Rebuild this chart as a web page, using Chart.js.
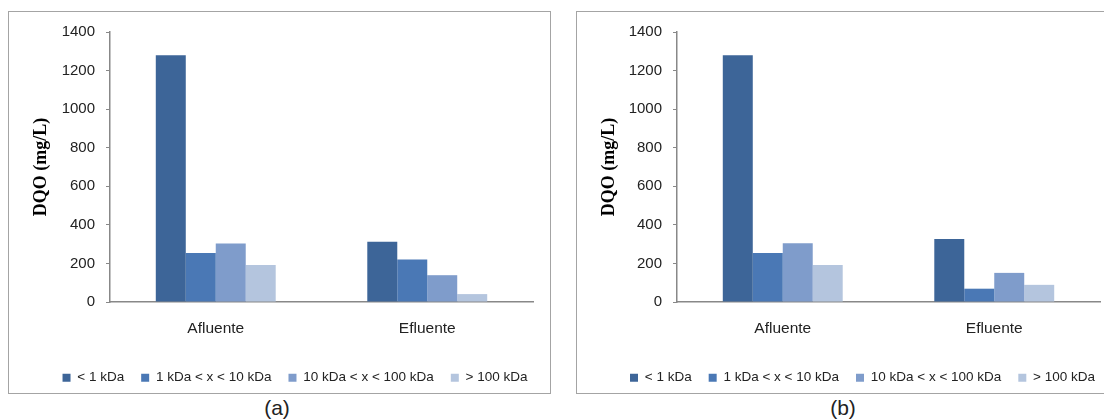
<!DOCTYPE html>
<html>
<head>
<meta charset="utf-8">
<script src="https://cdn.jsdelivr.net/npm/chart.js@4"></script>
<style>
  body { margin: 0; background: #fff; width: 1104px; height: 420px; overflow: hidden; position: relative; }
  .panel { position: absolute; top: 11px; width: 541px; height: 381px; border: 1px solid #a4a4a4; background: #fff; }
  .cap { position: absolute; top: 396px; font: 21px "Liberation Sans", Arial, sans-serif; color: #222; width: 60px; text-align: center; }
</style>
</head>
<body>
<div class="panel" style="left:8px"><canvas id="chartA" width="541" height="381"></canvas></div>
<div class="panel" style="left:576px"><canvas id="chartB" width="541" height="381"></canvas></div>
<div class="cap" style="left:247px">(a)</div>
<div class="cap" style="left:813px">(b)</div>
<script>
const categories = ['Afluente', 'Efluente']
const seriesLabels = ['< 1 kDa', '1 kDa < x < 10 kDa', '10 kDa < x < 100 kDa', '> 100 kDa']
const colors = ['#3d6598', '#4a78b5', '#7f9ccb', '#b4c5de']
const yTicks = [0, 200, 400, 600, 800, 1000, 1200, 1400]

// panel (a)
const a_lt1 = [1280, 312]
const a_1to10 = [254, 221]
const a_10to100 = [303, 139]
const a_gt100 = [192, 41]

// panel (b)
const b_lt1 = [1280, 327]
const b_1to10 = [254, 69]
const b_10to100 = [305, 151]
const b_gt100 = [192, 89]

// fixed legend height and a small shift to the right, like the original
const legendFit = {
    id: 'legendFit',
    beforeLayout(chart) {
        const lg = chart.legend
        if (lg && !lg._patched) {
            const fit = lg.fit
            lg.fit = function () { fit.call(this); this.height = 39 }
            lg._patched = true
        }
    },
    afterLayout(chart) {
        const lg = chart.legend
        if (lg) { lg.left += 24; lg.right += 24 }
    }
}

function makeChart(id, series, yWidth, padRight) {
    const data = {
        labels: categories,
        datasets: series.map((vals, i) => ({
            label: seriesLabels[i],
            data: vals,
            backgroundColor: colors[i],
            borderWidth: 0,
            barPercentage: 1,
            categoryPercentage: 0.567
        }))
    }
    const config = {
        type: 'bar',
        data: data,
        plugins: [legendFit],
        options: {
            responsive: false,
            animation: false,
            layout: { padding: { left: 0, top: 17, right: padRight, bottom: 0 } },
            plugins: {
                legend: {
                    position: 'bottom',
                    labels: {
                        boxWidth: 8, boxHeight: 8, padding: 17,
                        color: '#222',
                        font: { family: '"Liberation Sans", Arial, sans-serif', size: 13.5 }
                    }
                },
                tooltip: { enabled: false }
            },
            scales: {
                x: {
                    grid: { display: true, drawOnChartArea: false, drawTicks: false },
                    border: { color: '#888', width: 1.5 },
                    ticks: { color: '#222', padding: 17, font: { family: '"Liberation Sans", Arial, sans-serif', size: 15.5 } },
                    afterFit: (s) => { s.height = 52 }
                },
                y: {
                    min: 0, max: 1400,
                    afterBuildTicks: (s) => { s.ticks = yTicks.map(v => ({ value: v })) },
                    grid: { drawOnChartArea: false, drawTicks: true, tickLength: 4, color: '#888' },
                    border: { color: '#888', width: 1.5 },
                    ticks: {
                        color: '#222', padding: 11,
                        font: { family: '"Liberation Sans", Arial, sans-serif', size: 15 },
                        callback: (v) => String(v)
                    },
                    title: {
                        display: true, text: 'DQO (mg/L)', color: '#000',
                        padding: { top: 22, bottom: 0 },
                        font: { family: '"Liberation Serif", "Times New Roman", serif', size: 18, weight: 'bold' }
                    },
                    afterFit: (s) => { s.width = yWidth }
                }
            }
        }
    }
    return new Chart(document.getElementById(id), config)
}

makeChart('chartA', [a_lt1, a_1to10, a_10to100, a_gt100], 101, 17)
makeChart('chartB', [b_lt1, b_1to10, b_10to100, b_gt100], 100, 18)
</script>
</body>
</html>
